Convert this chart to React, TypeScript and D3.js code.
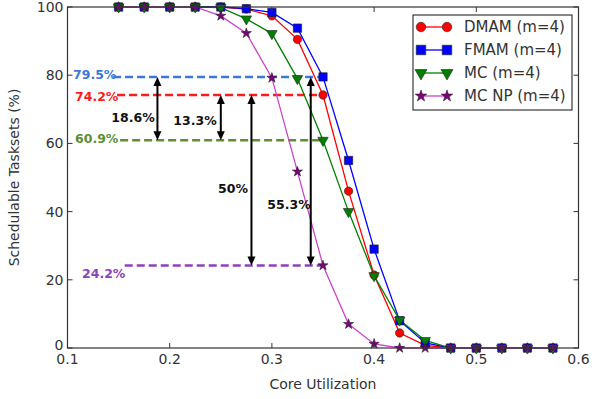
import React from "react";
import * as d3 from "d3";

const utilization = [0.15, 0.175, 0.2, 0.225, 0.25, 0.275, 0.3, 0.325, 0.35, 0.375, 0.4, 0.425, 0.45, 0.475, 0.5, 0.525, 0.55, 0.575];
const dmam = [100, 100, 100, 100, 100, 99.4, 97.4, 90.5, 74.2, 46, 21.4, 4.4, 0.8, 0, 0, 0, 0, 0];
const fmam = [100, 100, 100, 100, 100, 99.5, 98.4, 93.8, 79.5, 55, 29, 8, 1.5, 0, 0, 0, 0, 0];
const mc = [100, 100, 100, 100, 99.8, 96.5, 92.2, 79, 60.9, 40, 21.2, 8.2, 2.2, 0, 0, 0, 0, 0];
const mcnp = [100, 100, 100, 100, 97.4, 92.3, 79.2, 51.7, 24.2, 7, 1.2, 0, 0, 0, 0, 0, 0, 0];

const seriesNames = ["DMAM (m=4)", "FMAM (m=4)", "MC (m=4)", "MC NP (m=4)"];
const xTicks = [0.1, 0.2, 0.3, 0.4, 0.5, 0.6];
const yTicks = [0, 20, 40, 60, 80, 100];

// reference levels
const refValues = [79.5, 74.2, 60.9, 24.2];
const refLabels = ["79.5%", "74.2%", "60.9%", "24.2%"];
// gap arrows: from, to, label
const gapFrom = [79.5, 74.2, 74.2, 79.5];
const gapTo = [60.9, 60.9, 24.2, 24.2];
const gapLabels = ["18.6%", "13.3%", "50%", "55.3%"];

const W = 592, H = 399;
const M = { left: 67.5, right: 578.5, top: 7, bottom: 348 };
const FONT = "'DejaVu Sans', sans-serif";

export default function App() {
  const x = d3.scaleLinear().domain([0.1, 0.6]).range([M.left, M.right]);
  const y = d3.scaleLinear().domain([0, 100]).range([M.bottom, M.top]);

  const styles = [
    { line: "#ff0000", fill: "#ff0000", sym: d3.symbolCircle, size: 55, rot: 0 },
    { line: "#0000ff", fill: "#0000ff", sym: d3.symbolSquare, size: 70, rot: 0 },
    { line: "#008000", fill: "#008000", sym: d3.symbolTriangle, size: 48, rot: 180 },
    { line: "#cc44cc", fill: "#800080", sym: d3.symbolStar, size: 32, rot: 0 },
  ];
  const data = [dmam, fmam, mc, mcnp];
  const line = d3.line<number>().x((_, i) => x(utilization[i])).y((d) => y(d));

  const refStyle = [
    { color: "#3b78d8", x0: 0.1446, lx: 73, ly: 75 },
    { color: "#ff1a1a", x0: 0.1485, lx: 75, ly: 97 },
    { color: "#5b8f32", x0: 0.1515, lx: 75, ly: 139 },
    { color: "#8e3fc0", x0: 0.156, lx: 82, ly: 274 },
  ];
  const gapStyle = [
    { ax: 0.188, lx: 133, ly: 118 },
    { ax: 0.25, lx: 195, ly: 121 },
    { ax: 0.28, lx: 233, ly: 189 },
    { ax: 0.338, lx: 289, ly: 205 },
  ];

  const arrowHead = (px: number, py: number, dir: number) => {
    const L = 9, hw = 4;
    return `M${px},${py} L${px - hw},${py - dir * L} L${px + hw},${py - dir * L} Z`;
  };

  return (
    <svg width={W} height={H} style={{ position: "absolute", left: 0, top: 0, background: "#fff" }} fontFamily={FONT}>
      <rect width={W} height={H} fill="#fff" />
      {refValues.map((v, i) => (
        <g key={"ref" + i}>
          <line x1={x(refStyle[i].x0)} x2={x(0.35)} y1={y(v)} y2={y(v)} stroke={refStyle[i].color} strokeWidth={2.5} strokeDasharray="8,4" />
          <text x={refStyle[i].lx} y={refStyle[i].ly} dy="0.35em" fill={refStyle[i].color} fontSize={12.5} fontWeight="bold">{refLabels[i]}</text>
        </g>
      ))}
      {data.map((d, s) => (
        <path key={"l" + s} d={line(d) || ""} fill="none" stroke={styles[s].line} strokeWidth={1.3} />
      ))}
      {data.map((d, s) => (
        <g key={"m" + s}>
          {d.map((v, i) => (
            <path key={i} d={d3.symbol().type(styles[s].sym).size(styles[s].size)() || ""}
              transform={`translate(${x(utilization[i])},${y(v)}) rotate(${styles[s].rot})`}
              fill={styles[s].fill} stroke="#222" strokeWidth={0.6} />
          ))}
        </g>
      ))}
      {gapFrom.map((f, i) => {
        const ax = x(gapStyle[i].ax);
        const y1 = y(f), y2 = y(gapTo[i]);
        return (
          <g key={"g" + i}>
            <line x1={ax} x2={ax} y1={y1 + 6} y2={y2 - 6} stroke="#000" strokeWidth={2} />
            <path d={arrowHead(ax, y1, -1)} fill="#000" />
            <path d={arrowHead(ax, y2, 1)} fill="#000" />
            <text x={gapStyle[i].lx} y={gapStyle[i].ly} dy="0.35em" textAnchor="middle" fontSize={12.5} fontWeight="bold" fill="#111">{gapLabels[i]}</text>
          </g>
        );
      })}
      <rect x={M.left} y={M.top} width={M.right - M.left} height={M.bottom - M.top} fill="none" stroke="#333" strokeWidth={1.2} />
      {xTicks.map((t) => (
        <g key={"xt" + t}>
          <line x1={x(t)} x2={x(t)} y1={M.bottom} y2={M.bottom - 5} stroke="#333" />
          <line x1={x(t)} x2={x(t)} y1={M.top} y2={M.top + 5} stroke="#333" />
          <text x={x(t)} y={M.bottom + 16} textAnchor="middle" fontSize={14} fill="#333">{d3.format(".1f")(t)}</text>
        </g>
      ))}
      {yTicks.map((t) => (
        <g key={"yt" + t}>
          <line x1={M.left} x2={M.left + 5} y1={y(t)} y2={y(t)} stroke="#333" />
          <line x1={M.right} x2={M.right - 5} y1={y(t)} y2={y(t)} stroke="#333" />
          <text x={M.left - 4} y={t === 0 ? y(t) - 3 : y(t)} dy="0.35em" textAnchor="end" fontSize={14} fill="#333">{t}</text>
        </g>
      ))}
      <text x={(M.left + M.right) / 2} y={389} textAnchor="middle" fontSize={14} fill="#333">Core Utilization</text>
      <text transform={`translate(19,${(M.top + M.bottom) / 2}) rotate(-90)`} textAnchor="middle" fontSize={14} fill="#333">Schedulable Tasksets (%)</text>
      <rect x={413} y={15} width={159} height={95} fill="#fff" stroke="#111" strokeWidth={1} />
      {seriesNames.map((n, i) => {
        const ly = 27 + i * 23;
        const sym = d3.symbol().type(styles[i].sym).size(styles[i].size * 1.3)() || "";
        return (
          <g key={"lg" + i}>
            <line x1={421} x2={447} y1={ly} y2={ly} stroke={styles[i].line} strokeWidth={1.3} />
            <path d={sym} transform={`translate(421,${ly}) rotate(${styles[i].rot})`} fill={styles[i].fill} stroke="#222" strokeWidth={0.6} />
            <path d={sym} transform={`translate(447,${ly}) rotate(${styles[i].rot})`} fill={styles[i].fill} stroke="#222" strokeWidth={0.6} />
            <text x={464} y={ly} dy="0.35em" fontSize={15} fill="#333">{n}</text>
          </g>
        );
      })}
    </svg>
  );
}
